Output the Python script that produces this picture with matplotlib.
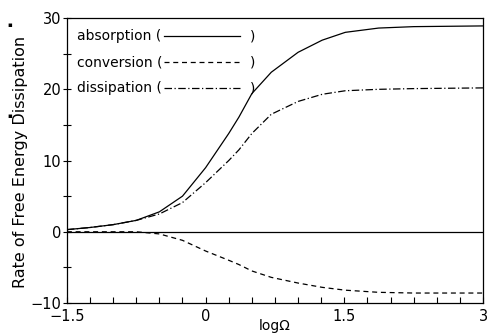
import numpy as np
import matplotlib
matplotlib.use("Agg")
import matplotlib.pyplot as plt

# values
log_omega = [-1.5, -1.25, -1.0, -0.75, -0.5, -0.25, 0.0, 0.25, 0.36, 0.5, 0.71, 1.0, 1.26, 1.51, 1.87, 2.25, 3.0]
absorption = [0.3, 0.6, 1.0, 1.6, 2.8, 5.0, 9.0, 13.8, 16.1, 19.4, 22.4, 25.2, 26.9, 28.0, 28.6, 28.8, 28.9]
dissipation = [0.3, 0.6, 1.0, 1.6, 2.5, 4.1, 6.9, 10.0, 11.5, 13.8, 16.5, 18.3, 19.3, 19.8, 20.0, 20.1, 20.2]
conversion = [0.0, 0.0, 0.0, 0.0, -0.3, -1.2, -2.7, -4.0, -4.6, -5.5, -6.4, -7.2, -7.8, -8.2, -8.5, -8.6, -8.6]

labels = ["absorption", "conversion", "dissipation"]
styles = ["-", (0, (4, 3)), (0, (6, 2, 1, 2))]

plt.rcParams["font.family"] = "DejaVu Sans"
fig = plt.figure(figsize=(4.88, 3.35), dpi=100)
ax = fig.add_axes([0.137, 0.0955, 0.853, 0.8505])

ax.plot(log_omega, absorption, color="black", lw=0.9, ls=styles[0])
ax.plot(log_omega, conversion, color="black", lw=0.9, ls=styles[1])
ax.plot(log_omega, dissipation, color="black", lw=0.9, ls=styles[2])
ax.axhline(0, color="black", lw=0.9)

ax.set_xlim(-1.5, 3)
ax.set_ylim(-10, 30)
ax.set_xticks([-1.5, 0, 1.5, 3])
ax.set_xticklabels(["\u22121.5", "0", "1.5", "3"])
ax.set_xticks(np.arange(-1.5, 3.01, 0.25), minor=True)
ax.set_yticks([-10, 0, 10, 20, 30])
ax.set_yticklabels(["\u221210", "0", "10", "20", "30"])
ax.set_yticks([-5, 5, 15, 25], minor=True)
ax.tick_params(axis="x", which="both", direction="in", length=4, width=0.8, labelsize=10.5, pad=4)
ax.tick_params(axis="y", which="both", direction="inout", length=6, width=0.8, labelsize=10.5, pad=1)
for s in ax.spines.values():
    s.set_linewidth(0.9)

ax.set_xlabel("log\u03a9", fontsize=10, labelpad=-3)
fig.text(0.043, 0.516, "Rate of Free Energy Dissipation", rotation=90,
         ha="center", va="center", fontsize=11.5)
fig.text(0.02, 0.925, "\u25aa", fontsize=5, ha="center", va="center")
fig.text(0.02, 0.655, "\u25aa", fontsize=5, ha="center", va="center")

# legend drawn as text with line samples in parentheses
for i, (lab, st) in enumerate(zip(labels, styles)):
    yy = 0.937 - i * 0.092
    ax.text(0.024, yy, lab + " (", transform=ax.transAxes, fontsize=10, va="center")
    ax.plot([0.233, 0.416], [yy, yy], transform=ax.transAxes, color="black", lw=0.9, ls=st)
    ax.text(0.44, yy, ")", transform=ax.transAxes, fontsize=10, va="center")

fig.savefig("out.png", dpi=100)
